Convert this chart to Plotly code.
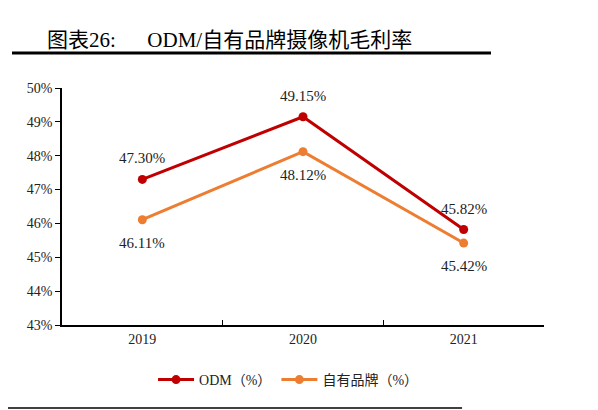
import plotly.graph_objects as go

# chart data
years = ["2019", "2020", "2021"]
odm = [47.30, 49.15, 45.82]
own_brand = [46.11, 48.12, 45.42]
y_ticks = [43, 44, 45, 46, 47, 48, 49, 50]

red = "#C00000"
orange = "#ED7D31"
serif = "Liberation Serif, Times New Roman, Noto Sans CJK SC, serif"

fig = go.Figure()
fig.add_trace(go.Scatter(x=years, y=odm, mode="lines+markers", name="ODM（%）",
                         line=dict(color=red, width=3), marker=dict(size=9, color=red)))
fig.add_trace(go.Scatter(x=years, y=own_brand, mode="lines+markers", name="自有品牌（%）",
                         line=dict(color=orange, width=3), marker=dict(size=9, color=orange)))

# value labels (x given as category index)
for i, v in enumerate(odm):
    fig.add_annotation(x=i, y=v, text=f"{v:.2f}%", showarrow=False, yshift=21,
                       font=dict(family=serif, size=15, color="#222222"))
for i, v in enumerate(own_brand):
    fig.add_annotation(x=i, y=v, text=f"{v:.2f}%", showarrow=False, yshift=-23,
                       font=dict(family=serif, size=15, color="#222222"))

# title and rules
fig.add_annotation(xref="paper", yref="paper", x=-0.036, y=1.2025, xanchor="left", yanchor="middle",
                   text="图表26:      ODM/自有品牌摄像机毛利率", showarrow=False,
                   font=dict(family=serif, size=21, color="#000000"))
fig.add_shape(type="line", xref="paper", yref="paper", x0=-0.1037, x1=0.890, y0=1.1477, y1=1.1477,
              line=dict(color="#000000", width=3))
fig.add_shape(type="line", xref="paper", yref="paper", x0=-0.1286, x1=0.830, y0=-0.350, y1=-0.350,
              line=dict(color="#000000", width=1.5))

fig.update_layout(
    width=598, height=410,
    margin=dict(l=54, r=62, t=80, b=93),
    paper_bgcolor="white", plot_bgcolor="white",
    font=dict(family=serif, size=14, color="#222222"),
    showlegend=True,
    legend=dict(orientation="h", x=0.47, y=-0.232, xanchor="center", yanchor="middle",
                font=dict(family=serif, size=14, color="#222222"), itemwidth=36),
    xaxis=dict(type="category", range=[-0.5, 2.5], showline=True, linecolor="#000000", linewidth=1.5,
               ticks="inside", ticklen=5, tickcolor="#000000", tickson="boundaries",
               showgrid=False, tickfont=dict(size=14)),
    yaxis=dict(range=[43, 50], tickvals=y_ticks, ticktext=[f"{t}%" for t in y_ticks],
               showline=True, linecolor="#000000", linewidth=1.5, ticks="outside", ticklen=5,
               tickcolor="#000000", showgrid=False, zeroline=False, tickfont=dict(size=14)),
)

fig.write_html("out.html")
